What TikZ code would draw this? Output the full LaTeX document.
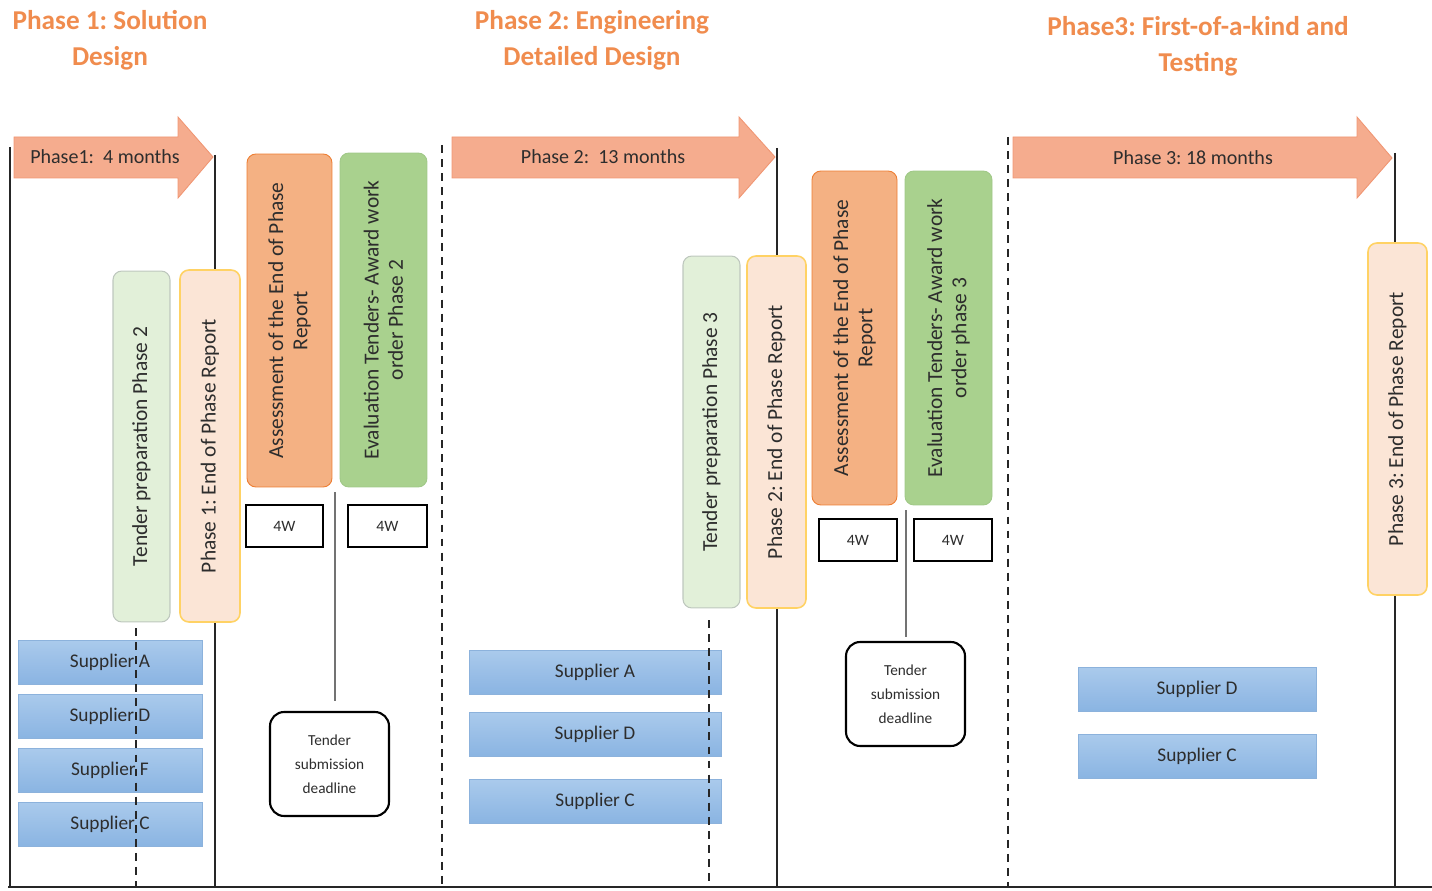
\documentclass[tikz,border=0pt]{standalone}
\usepackage{fontspec}
\setmainfont{Carlito}
\usetikzlibrary{calc}
\frenchspacing

\definecolor{titleorange}{RGB}{240,140,78}
\definecolor{arrowfill}{RGB}{245,172,142}
\definecolor{arrowline}{RGB}{240,150,115}
\definecolor{txt}{RGB}{45,45,45}
\definecolor{prepfill}{RGB}{226,240,217}
\definecolor{prepline}{RGB}{190,200,190}
\definecolor{endfill}{RGB}{251,229,214}
\definecolor{endline}{RGB}{255,210,100}
\definecolor{assessfill}{RGB}{244,177,131}
\definecolor{assessline}{RGB}{237,125,49}
\definecolor{evalfill}{RGB}{169,209,142}
\definecolor{evalline}{RGB}{160,200,135}
\definecolor{suptop}{RGB}{170,202,236}
\definecolor{supbot}{RGB}{138,180,226}
\definecolor{supline}{RGB}{140,178,220}

\tikzset{
  title/.style={font=\fontsize{15.5}{20.5}\selectfont\bfseries, text=titleorange, align=center},
  arrowtext/.style={font=\fontsize{11.4}{13}\selectfont, text=txt},
  vbox/.style={rotate=90, rounded corners=5pt, align=center, text=txt, inner sep=0pt,
    font=\fontsize{12.2}{13.8}\selectfont},
  prepbox/.style={vbox, fill=prepfill, draw=prepline, line width=0.6pt},
  endbox/.style={vbox, fill=endfill, draw=endline, line width=0.9pt},
  assessbox/.style={vbox, fill=assessfill, draw=assessline, line width=0.5pt},
  evalbox/.style={vbox, fill=evalfill, draw=evalline, line width=0.5pt},
  weekbox/.style={draw=black, line width=1.2pt, fill=white, text=txt, minimum height=0.84cm,
    font=\fontsize{9}{10}\selectfont},
  deadline/.style={draw=black, line width=1.2pt, fill=white, rounded corners=8pt, align=center,
    text=txt, minimum width=2.38cm, minimum height=2.08cm, font=\fontsize{8.7}{13.6}\selectfont},
  supplier/.style={top color=suptop, bottom color=supbot, draw=supline, line width=0.5pt,
    text=txt, minimum height=0.88cm, font=\fontsize{11}{13}\selectfont},
  phaseline/.style={line width=1pt, black!85},
  splitline/.style={line width=1.2pt, black!85, dash pattern=on 4.5pt off 3.5pt},
  feedline/.style={line width=0.6pt, black!55}
}

\begin{document}
\begin{tikzpicture}[x=0.02cm,y=-0.02cm]
  \useasboundingbox (0,0) rectangle (1432,891);

  % Titles
  \node[title] (t1) at (110,40) {Phase 1: Solution\\Design};
  \node[title] (t2) at (592,40) {Phase 2: Engineering\\Detailed Design};
  \node[title] (t3) at (1198,46) {Phase3: First-of-a-kind and\\Testing};

  % Base line and phase borders
  \coordinate (baseL) at (8,887);
  \coordinate (baseR) at (1432,887);
  \coordinate (s0) at (10,147);
  \coordinate (s1) at (215,155);
  \coordinate (s2) at (777,148);
  \coordinate (s3) at (1395,153);
  \coordinate (d1) at (442,145);
  \coordinate (d2) at (1008,137);
  \draw[phaseline] (baseL) -- (baseR);
  \foreach \s in {s0,s1,s2,s3}
    \draw[phaseline] (\s) -- (\s |- baseL);
  \foreach \d in {d1,d2}
    \draw[splitline] (\d) -- (\d |- baseL);

  % Duration arrows
  \filldraw[fill=arrowfill, draw=arrowline, line width=0.5pt]
    (14,137) -- (178,137) -- (178,117) -- (213,157) -- (178,198) -- (178,178) -- (14,178) -- cycle;
  \node[arrowtext] (a1) at (105,157) {Phase1:\ \ 4 months};
  \filldraw[fill=arrowfill, draw=arrowline, line width=0.5pt]
    (452,137) -- (739,137) -- (739,117) -- (775,157) -- (739,198) -- (739,178) -- (452,178) -- cycle;
  \node[arrowtext] (a2) at (603,157) {Phase 2:\ \ 13 months};
  \filldraw[fill=arrowfill, draw=arrowline, line width=0.5pt]
    (1013,137) -- (1357,137) -- (1357,117) -- (1392,158) -- (1357,198) -- (1357,178) -- (1013,178) -- cycle;
  \node[arrowtext] (a3) at (1193,158) {Phase 3: 18 months};

  % Phase 1 activities
  \node[prepbox, minimum width=7.02cm, minimum height=1.14cm] (prep1) at (141.5,446.5) {Tender preparation Phase 2};
  \node[endbox, minimum width=7.04cm, minimum height=1.2cm] (end1) at (210,446) {Phase 1: End of Phase Report};
  \node[assessbox, minimum width=6.66cm, minimum height=1.7cm] (ass1) at (289.5,320.5) {Assessment of the End of Phase\\Report};
  \node[evalbox, minimum width=6.68cm, minimum height=1.74cm] (eval1) at (383.5,320) {Evaluation Tenders- Award work\\order Phase 2};
  \node[weekbox, minimum width=1.54cm] (wk1a) at (284.5,526) {4W};
  \node[weekbox, minimum width=1.58cm] (wk1b) at (387.5,526) {4W};
  \node[deadline] (dl1) at (329.5,764) {Tender\\submission\\deadline};
  \coordinate (f1) at (335,492);
  \draw[feedline, shorten >=0.2cm] (f1) -- (f1 |- dl1.north);

  % Phase 1 suppliers
  \foreach \name/\yy in {A/662, D/716, F/770, C/824}
    \node[supplier, minimum width=3.68cm] (sup1\name) at (110,\yy) {Supplier \name};
  \coordinate (p1) at (136,628);
  \draw[splitline] (p1) -- (p1 |- baseL);

  % Phase 2 activities
  \node[prepbox, minimum width=7.04cm, minimum height=1.14cm] (prep2) at (711.5,432) {Tender preparation Phase 3};
  \node[endbox, minimum width=7.04cm, minimum height=1.18cm] (end2) at (776.5,432) {Phase 2: End of Phase Report};
  \node[assessbox, minimum width=6.68cm, minimum height=1.7cm] (ass2) at (854.5,338) {Assessment of the End of Phase\\Report};
  \node[evalbox, minimum width=6.68cm, minimum height=1.74cm] (eval2) at (948.5,338) {Evaluation Tenders- Award work\\order phase 3};
  \node[weekbox, minimum width=1.56cm] (wk2a) at (858,540) {4W};
  \node[weekbox, minimum width=1.56cm] (wk2b) at (953,540) {4W};
  \node[deadline] (dl2) at (905.5,694) {Tender\\submission\\deadline};
  \coordinate (f2) at (906,510);
  \draw[feedline, shorten >=0.08cm] (f2) -- (f2 |- dl2.north);

  % Phase 2 suppliers
  \foreach \name/\yy in {A/672, D/734, C/801}
    \node[supplier, minimum width=5.04cm] (sup2\name) at (595,\yy) {Supplier \name};
  \coordinate (p2) at (709,620);
  \draw[splitline] (p2) -- (p2 |- baseL);

  % Phase 3
  \node[endbox, minimum width=7.04cm, minimum height=1.18cm] (end3) at (1397.5,419) {Phase 3: End of Phase Report};
  \foreach \name/\yy in {D/689, C/756}
    \node[supplier, minimum width=4.76cm] (sup3\name) at (1197,\yy) {Supplier \name};

\end{tikzpicture}
\end{document}
